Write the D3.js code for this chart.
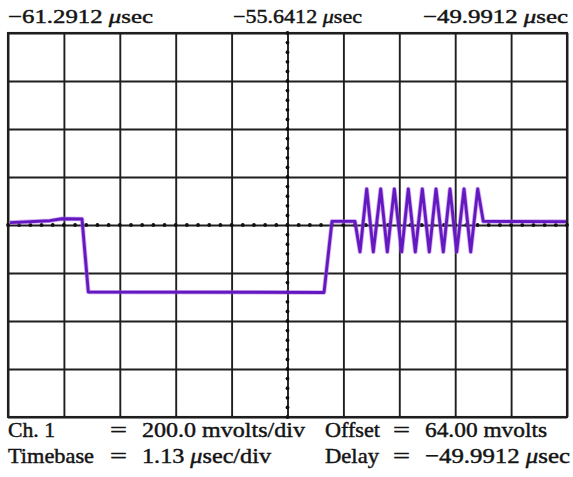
<!DOCTYPE html>
<html>
<head>
<meta charset="utf-8">
<script src="https://cdn.jsdelivr.net/npm/d3@7"></script>
<style>
  html, body { margin: 0; padding: 0; background: #ffffff; }
  svg { display: block; }
  text { font-family: "Liberation Serif", "DejaVu Serif", serif; fill: #141414; stroke: #141414; stroke-width: 0.45px; }
</style>
</head>
<body>
<svg id="scope" width="573" height="477"></svg>
<script>
// Time window (µs) and vertical range (mV) of the display
const timeStart = -61.2912;
const timeEnd = -49.9912;
const timePerDiv = 1.13;        // µs/div
const voltsPerDiv = 200;        // mV/div
const offsetMv = 64;            // mV at screen centre
const divsX = 10;
const divsY = 8;

// Captured trace: time (µs) and level (mV)
const traceTime = [
  -61.251, -60.442, -60.200, -59.795, -59.668, -54.903, -54.742, -54.277,
  -54.176, -54.040, -53.907, -53.757, -53.624, -53.482, -53.333, -53.199,
  -53.058, -52.916, -52.775, -52.639, -52.492, -52.356, -52.221, -52.073,
  -51.938, -51.796, -51.683, -50.011
];
const traceMv = [
  74, 82, 90, 89, -215, -217, 79, 79,
  -48, 214, -48, 214, -48, 214, -48, 214,
  -48, 214, -48, 214, -48, 214, -48, 214,
  -48, 214, 79, 78
];

// Time readouts above the graticule
const topLabels = ["\u221261.2912 ", "\u221255.6412 ", "\u221249.9912 "];

// Settings readout below the graticule
const readLeftNames = ["Ch. 1", "Timebase"];
const readLeftValues = ["200.0 mvolts/div", "1.13 |sec/div"];
const readRightNames = ["Offset", "Delay"];
const readRightValues = ["64.00 mvolts", "\u221249.9912 |sec"];

const svg = d3.select("#scope");

const plot = { left: 8, right: 567, top: 33, bottom: 417 };

const x = d3.scaleLinear().domain([timeStart, timeEnd]).range([plot.left, plot.right]);
const y = d3.scaleLinear()
  .domain([offsetMv - voltsPerDiv * divsY / 2, offsetMv + voltsPerDiv * divsY / 2])
  .range([plot.bottom, plot.top]);

const majorX = d3.range(divsX + 1).map(i => timeStart + i * timePerDiv);
const majorY = d3.range(divsY + 1).map(i => y.domain()[0] + i * voltsPerDiv);

const gridColor = "#1e1e1e";

// Graticule: major divisions drawn as full-length axis ticks
const gx = svg.append("g")
  .attr("transform", `translate(0,${plot.bottom})`)
  .call(d3.axisBottom(x).tickValues(majorX).tickSize(-(plot.bottom - plot.top)).tickFormat(""));
const gy = svg.append("g")
  .attr("transform", `translate(${plot.left},0)`)
  .call(d3.axisLeft(y).tickValues(majorY).tickSize(-(plot.right - plot.left)).tickFormat(""));
[gx, gy].forEach(g => {
  g.select(".domain").remove();
  g.selectAll(".tick line").attr("stroke", gridColor).attr("stroke-width", 1.9);
});

svg.append("rect")
  .attr("x", plot.left).attr("y", plot.top)
  .attr("width", plot.right - plot.left).attr("height", plot.bottom - plot.top)
  .attr("fill", "none").attr("stroke", gridColor).attr("stroke-width", 2.1);

// Minor ticks along the centre lines (fifths of a division)
const midT = (timeStart + timeEnd) / 2;
const minorX = d3.range(divsX * 5 + 1).map(i => timeStart + i * timePerDiv / 5);
const minorY = d3.range(divsY * 5 + 1).map(i => y.domain()[0] + i * voltsPerDiv / 5);

svg.append("g").selectAll("circle.mx").data(minorX).join("circle")
  .attr("cx", d => x(d)).attr("cy", y(offsetMv)).attr("r", 1.9).attr("fill", "#111");
svg.append("g").selectAll("circle.my").data(minorY).join("circle")
  .attr("cx", x(midT)).attr("cy", d => y(d)).attr("r", 1.9).attr("fill", "#111");

// The trace
const trace = traceTime.map((t, i) => [t, traceMv[i]]);
const line = d3.line().x(d => x(d[0])).y(d => y(d[1]));

svg.append("path")
  .datum(trace)
  .attr("d", line)
  .attr("fill", "none")
  .attr("stroke", "#a860e6")
  .attr("stroke-width", 4.6)
  .attr("stroke-opacity", 0.5)
  .attr("stroke-linejoin", "round");
svg.append("path")
  .datum(trace)
  .attr("d", line)
  .attr("fill", "none")
  .attr("stroke", "#6419c0")
  .attr("stroke-width", 2.9)
  .attr("stroke-linejoin", "round");

// Text helper: "|" marks where an italic µ is placed
function putText(str, px, py, size, width, anchor) {
  const t = svg.append("text")
    .attr("x", px).attr("y", py)
    .attr("font-size", size)
    .attr("text-anchor", anchor || "start")
    .attr("textLength", width)
    .attr("lengthAdjust", "spacingAndGlyphs");
  str.split("|").forEach((part, i) => {
    if (i > 0) t.append("tspan").attr("font-style", "italic").text("\u03bc");
    if (part) t.append("tspan").text(part);
  });
  return t;
}

// Time readouts
const topPos = [[8, 145], [233, 129], [423, 145]];
topLabels.forEach((s, i) => putText(s + "|sec", topPos[i][0], 22.7, 19.5, topPos[i][1]));

// Settings readouts
const rowY = [436.7, 463.3];
const leftNameW = [47, 86];
const leftValW = [163, 129];
const rightNameW = [55, 54];
const rightValW = [122, 145];
rowY.forEach((yy, i) => {
  putText(readLeftNames[i], 8, yy, 21.5, leftNameW[i]);
  putText("=", 110, yy, 21.5, 17);
  putText(readLeftValues[i], 142, yy, 21.5, leftValW[i]);
  putText(readRightNames[i], 325, yy, 21.5, rightNameW[i]);
  putText("=", 393, yy, 21.5, 17);
  putText(readRightValues[i], 425, yy, 21.5, rightValW[i]);
});
</script>
</body>
</html>
